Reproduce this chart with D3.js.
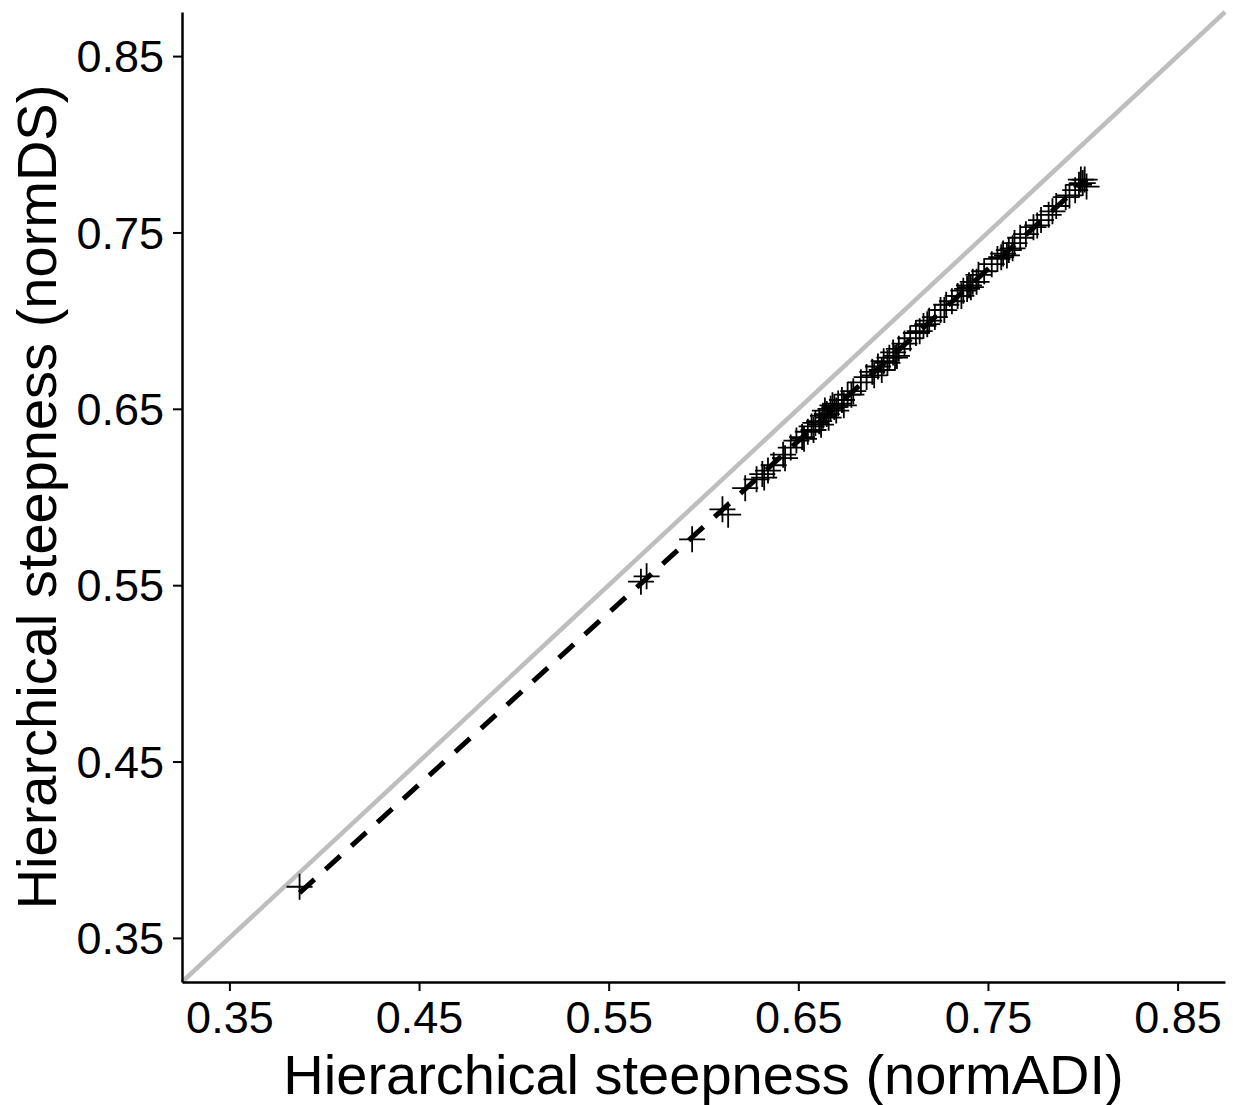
<!DOCTYPE html>
<html>
<head>
<meta charset="utf-8">
<script src="https://cdn.jsdelivr.net/npm/d3@7"></script>
<style>
  body { margin: 0; background: #fff; }
  svg { display: block; font-family: 'Liberation Sans', Arial, sans-serif; }
</style>
</head>
<body>
<svg id="chart" width="1233" height="1105"></svg>
<script>
// hierarchical steepness per group, normADI (x) vs normDS (y)
const normADI = [
  0.387, 0.567, 0.570, 0.594, 0.610, 0.613, 0.622, 0.628, 0.631, 0.634,
  0.637, 0.642, 0.646, 0.649, 0.652, 0.655, 0.657, 0.659, 0.661, 0.663,
  0.665, 0.667, 0.669, 0.671, 0.673, 0.676, 0.679, 0.683, 0.686, 0.689,
  0.692, 0.695, 0.698, 0.700, 0.703, 0.706, 0.709, 0.712, 0.716, 0.719,
  0.722, 0.725, 0.728, 0.731, 0.734, 0.737, 0.740, 0.742, 0.745, 0.748,
  0.752, 0.755, 0.758, 0.761, 0.764, 0.767, 0.770, 0.774, 0.778, 0.782,
  0.786, 0.791, 0.796, 0.798, 0.800, 0.802, 0.799, 0.664, 0.668, 0.701,
  0.739, 0.757, 0.653, 0.658, 0.662, 0.666, 0.670, 0.674, 0.678, 0.690,
  0.694, 0.697, 0.702, 0.714, 0.718, 0.727, 0.736, 0.741, 0.744, 0.760,
  0.763, 0.776, 0.784, 0.793, 0.801, 0.643, 0.632
]
const normDS = [
  0.379, 0.552, 0.555, 0.576, 0.593, 0.590, 0.605, 0.610, 0.613, 0.615,
  0.618, 0.624, 0.628, 0.632, 0.634, 0.637, 0.640, 0.642, 0.643, 0.646,
  0.647, 0.650, 0.651, 0.653, 0.655, 0.658, 0.660, 0.665, 0.668, 0.671,
  0.674, 0.677, 0.679, 0.682, 0.684, 0.687, 0.690, 0.693, 0.697, 0.700,
  0.702, 0.706, 0.709, 0.711, 0.714, 0.717, 0.720, 0.722, 0.726, 0.728,
  0.732, 0.735, 0.738, 0.740, 0.744, 0.747, 0.749, 0.753, 0.757, 0.760,
  0.765, 0.770, 0.774, 0.777, 0.778, 0.776, 0.780, 0.649, 0.652, 0.679,
  0.718, 0.736, 0.633, 0.638, 0.641, 0.645, 0.649, 0.652, 0.658, 0.669,
  0.672, 0.676, 0.680, 0.694, 0.698, 0.706, 0.714, 0.719, 0.722, 0.737,
  0.741, 0.754, 0.762, 0.771, 0.780, 0.622, 0.611
]
const ticks = [0.35, 0.45, 0.55, 0.65, 0.75, 0.85]
const limits = [0.325, 0.875]
const xTitle = 'Hierarchical steepness (normADI)'
const yTitle = 'Hierarchical steepness (normDS)'

const points = normADI.map((x, i) => ({ x, y: normDS[i] }))

const margin = { top: 12, right: 8, bottom: 123, left: 182 }
const width = 1233
const height = 1105

const svg = d3.select('#chart')
const x = d3.scaleLinear().domain(limits).range([margin.left, width - margin.right])
const y = d3.scaleLinear().domain(limits).range([height - margin.bottom, margin.top])

/** least squares fit of normDS on normADI */
function linearFit (xs, ys) {
  const mx = d3.mean(xs)
  const my = d3.mean(ys)
  const sxy = d3.sum(xs, (v, i) => (v - mx) * (ys[i] - my))
  const sxx = d3.sum(xs, v => (v - mx) * (v - mx))
  const slope = sxy / sxx
  return { slope, intercept: my - slope * mx }
}

// identity line
svg.append('line')
  .attr('x1', x(limits[0])).attr('y1', y(limits[0]))
  .attr('x2', x(limits[1])).attr('y2', y(limits[1]))
  .attr('stroke', '#bebebe').attr('stroke-width', 4.5)

// crosses
const cross = 13
const g = svg.append('g').attr('stroke', '#000').attr('stroke-width', 1.8)
g.selectAll('path.pt')
  .data(points).enter().append('path').attr('class', 'pt')
  .attr('d', d => {
    const cx = x(d.x)
    const cy = y(d.y)
    return `M${cx - cross},${cy}H${cx + cross}M${cx},${cy - cross}V${cy + cross}`
  })

// regression line
const fit = linearFit(normADI, normDS)
const [x0, x1] = d3.extent(normADI)
svg.append('line')
  .attr('x1', x(x0)).attr('y1', y(fit.intercept + fit.slope * x0))
  .attr('x2', x(x1)).attr('y2', y(fit.intercept + fit.slope * x1))
  .attr('stroke', '#000').attr('stroke-width', 5)
  .attr('stroke-dasharray', '20,15')

// axes
const xAxis = svg.append('g')
  .attr('transform', `translate(0,${height - margin.bottom})`)
  .call(d3.axisBottom(x).tickValues(ticks).tickFormat(d3.format('.2f')).tickSize(9).tickSizeOuter(0))
const yAxis = svg.append('g')
  .attr('transform', `translate(${margin.left},0)`)
  .call(d3.axisLeft(y).tickValues(ticks).tickFormat(d3.format('.2f')).tickSize(9).tickSizeOuter(0))

for (const ax of [xAxis, yAxis]) {
  ax.select('.domain').attr('stroke', '#000').attr('stroke-width', 2.5)
  ax.selectAll('.tick line').attr('stroke', '#000').attr('stroke-width', 2)
  ax.selectAll('.tick text').attr('fill', '#000').style('font-size', '45px')
    .style('font-family', "'Liberation Sans', Arial, sans-serif")
}
xAxis.selectAll('.tick text').attr('y', 19)
yAxis.selectAll('.tick text').attr('x', -18).attr('dy', '0.35em')

svg.append('text')
  .attr('x', (margin.left + width - margin.right) / 2)
  .attr('y', 1094)
  .attr('text-anchor', 'middle')
  .style('font-size', '56px')
  .text(xTitle)

svg.append('text')
  .attr('transform', `translate(56,${(margin.top + height - margin.bottom) / 2}) rotate(-90)`)
  .attr('text-anchor', 'middle')
  .style('font-size', '56px')
  .text(yTitle)
</script>
</body>
</html>
